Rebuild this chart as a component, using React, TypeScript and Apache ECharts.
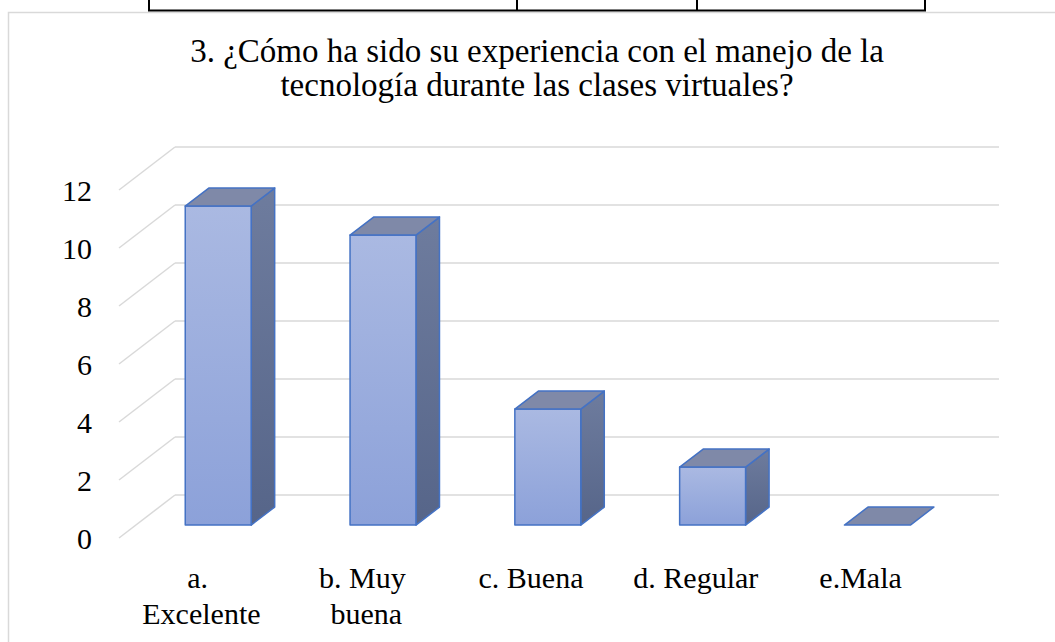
import React, { useEffect, useRef } from "react";
import * as echarts from "echarts";

const titleLines = [
  "3. ¿Cómo ha sido su experiencia con el manejo de la",
  "tecnología durante las clases virtuales?",
];
const categories = ["a. Excelente", "b. Muy buena", "c. Buena", "d. Regular", "e.Mala"];
const values = [11, 10, 4, 2, 0];
const yTicks = [0, 2, 4, 6, 8, 10, 12];

// 3D geometry (pixels): floor depth vector and bar depth placement
const FLOOR_DX = 56;
const FLOOR_DY = 43;
const BAR_FRONT = 0.3;
const BAR_BACK = 0.72;
const BAR_W_RATIO = 0.4;

const FONT = "'Liberation Serif', 'Times New Roman', serif";
const EDGE = "#4472C4";
const GRID = "#D9D9D9";

export default function App() {
  const ref = useRef<HTMLDivElement>(null);

  useEffect(() => {
    if (!ref.current) return;
    const chart = echarts.init(ref.current, null, { renderer: "svg" });

    const frontFill = new echarts.graphic.LinearGradient(0, 0, 0, 1, [
      { offset: 0, color: "#AAB9E2" },
      { offset: 1, color: "#8CA1D9" },
    ]);
    const sideFill = new echarts.graphic.LinearGradient(0, 0, 0, 1, [
      { offset: 0, color: "#6E7C9E" },
      { offset: 1, color: "#566589" },
    ]);

    chart.setOption({
      animation: false,
      backgroundColor: "#ffffff",
      title: {
        text: titleLines.join("\n"),
        left: 537,
        textAlign: "center",
        top: 34,
        padding: 0,
        textStyle: {
          fontFamily: FONT,
          fontSize: 33,
          lineHeight: 34,
          fontWeight: "normal",
          color: "#000000",
        },
      },
      graphic: [
        {
          type: "rect",
          silent: true,
          z: 0,
          shape: { x: 8.5, y: 12.5, width: 1100, height: 700 },
          style: { fill: "none", stroke: GRID, lineWidth: 1.5 },
        },
        {
          type: "polyline",
          silent: true,
          z: 0,
          shape: { points: [[149, -2], [149, 10.5], [925, 10.5], [925, -2]] },
          style: { fill: "none", stroke: "#000000", lineWidth: 2 },
        },
        {
          type: "line",
          silent: true,
          z: 0,
          shape: { x1: 517, y1: -2, x2: 517, y2: 10.5 },
          style: { stroke: "#000000", lineWidth: 2 },
        },
        {
          type: "line",
          silent: true,
          z: 0,
          shape: { x1: 697, y1: -2, x2: 697, y2: 10.5 },
          style: { stroke: "#000000", lineWidth: 2 },
        },
      ],
      grid: [
        { left: 119, right: 112, top: 190, bottom: 104 },
        { left: 175, right: 56, top: 147, bottom: 147 },
      ],
      xAxis: [
        {
          type: "category",
          gridIndex: 0,
          data: categories,
          axisLine: { show: false },
          axisTick: { show: false },
          splitLine: { show: false },
          axisLabel: {
            interval: 0,
            fontFamily: FONT,
            fontSize: 30,
            lineHeight: 36,
            color: "#000000",
            margin: 21,
            width: 130,
            overflow: "break",
          },
        },
        { type: "value", gridIndex: 1, min: 0, max: 1, show: false },
      ],
      yAxis: [
        {
          type: "value",
          gridIndex: 0,
          min: 0,
          max: 12,
          interval: 2,
          axisLine: { show: false },
          axisTick: { show: false },
          splitLine: { show: false },
          axisLabel: { fontFamily: FONT, fontSize: 30, color: "#000000", margin: 27 },
        },
        {
          type: "value",
          gridIndex: 1,
          min: 0,
          max: 12,
          interval: 2,
          axisLine: { show: false },
          axisTick: { show: false },
          axisLabel: { show: false },
          splitLine: { show: true, lineStyle: { color: GRID, width: 1.5 } },
        },
      ],
      series: [
        {
          type: "custom",
          name: "floor",
          xAxisIndex: 1,
          yAxisIndex: 1,
          silent: true,
          z: 1,
          data: yTicks.map((t) => [0, t]),
          renderItem: (_params: any, api: any) => {
            const p = api.coord([0, api.value(1)]);
            return {
              type: "line",
              shape: { x1: p[0], y1: p[1], x2: p[0] - FLOOR_DX, y2: p[1] + FLOOR_DY },
              style: { stroke: GRID, lineWidth: 1.5 },
            };
          },
        },
        {
          type: "custom",
          name: "Respuestas",
          xAxisIndex: 0,
          yAxisIndex: 0,
          z: 3,
          data: values.map((v, i) => [i, v]),
          encode: { x: 0, y: 1 },
          renderItem: (_params: any, api: any) => {
            const i = api.value(0);
            const v = api.value(1);
            const base = api.coord([i, 0]);
            const top = api.coord([i, v]);
            const band = api.size([1, 0])[0];
            const w = band * BAR_W_RATIO;
            const ox = FLOOR_DX * BAR_FRONT;
            const oy = FLOOR_DY * BAR_FRONT;
            const dx = FLOOR_DX * (BAR_BACK - BAR_FRONT);
            const dy = FLOOR_DY * (BAR_BACK - BAR_FRONT);
            const xl = base[0] + ox - w / 2;
            const xr = xl + w;
            const yb = base[1] - oy;
            const yt = top[1] - oy;
            const children: any[] = [];
            if (yb - yt > 0.5) {
              children.push({
                type: "polygon",
                shape: { points: [[xr, yt], [xr + dx, yt - dy], [xr + dx, yb - dy], [xr, yb]] },
                style: { fill: sideFill, stroke: EDGE, lineWidth: 1.5, lineJoin: "round" },
              });
              children.push({
                type: "rect",
                shape: { x: xl, y: yt, width: w, height: yb - yt },
                style: { fill: frontFill, stroke: EDGE, lineWidth: 1.5, lineJoin: "round" },
              });
            }
            children.push({
              type: "polygon",
              shape: { points: [[xl, yt], [xr, yt], [xr + dx, yt - dy], [xl + dx, yt - dy]] },
              style: { fill: "#7F89A8", stroke: EDGE, lineWidth: 1.5, lineJoin: "round" },
            });
            return { type: "group", children };
          },
        },
      ],
    });

    return () => chart.dispose();
  }, []);

  return (
    <div
      ref={ref}
      style={{ position: "absolute", left: 0, top: 0, width: 1055, height: 642 }}
    />
  );
}
